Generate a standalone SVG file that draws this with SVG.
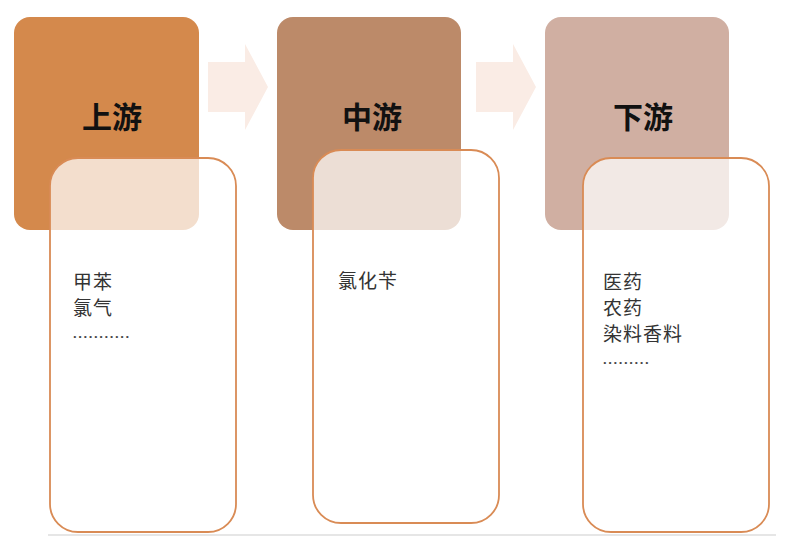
<svg xmlns="http://www.w3.org/2000/svg" width="794" height="537" viewBox="0 0 794 537">
<style>
.head{font-family:"Noto Sans CJK SC","Noto Sans",sans-serif;font-weight:bold;font-size:30px;fill:#111;text-anchor:middle}
.item{font-family:"Noto Sans CJK SC","Noto Sans",sans-serif;font-size:19px;letter-spacing:1px;fill:#333}
.dots{font-family:"Noto Sans",sans-serif;font-size:13px;font-weight:bold;letter-spacing:1.6px;fill:#444}
.card{fill:#ffffff;fill-opacity:0.72;stroke:#D98B55;stroke-width:1.8}
.arrow{fill:#FAECE5}
</style>
<rect width="794" height="537" fill="#ffffff"/>
<line x1="48" y1="535" x2="776" y2="535" stroke="#E6E6E6" stroke-width="2"/>
<g id="connectors">
<polygon class="arrow" points="208,62 245,62 245,44 268,87 245,130 245,112 208,112"/>
<polygon class="arrow" points="476,62 513,62 513,44 536,87 513,130 513,112 476,112"/>
</g>
<g id="upstream">
<rect x="14" y="17" width="185" height="213" rx="16" fill="#D4894C"/>
<text class="head" x="112" y="128">上游</text>
<rect class="card" x="50" y="158" width="186" height="374" rx="28"/>
<text class="item" x="73" y="289">甲苯</text>
<text class="item" x="73" y="315">氯气</text>
<text class="dots" x="73" y="338">...........</text>
</g>
<g id="midstream">
<rect x="277" y="17" width="184" height="213" rx="16" fill="#BC8A69"/>
<text class="head" x="372" y="128">中游</text>
<rect class="card" x="313" y="150" width="186" height="373" rx="28"/>
<text class="item" x="338" y="288">氯化苄</text>
</g>
<g id="downstream">
<rect x="545" y="17" width="184" height="213" rx="16" fill="#D0AFA2"/>
<text class="head" x="643" y="128">下游</text>
<rect class="card" x="583" y="158" width="186" height="374" rx="28"/>
<text class="item" x="603" y="289">医药</text>
<text class="item" x="603" y="315">农药</text>
<text class="item" x="603" y="341">染料香料</text>
<text class="dots" x="603" y="364">.........</text>
</g>
</svg>
